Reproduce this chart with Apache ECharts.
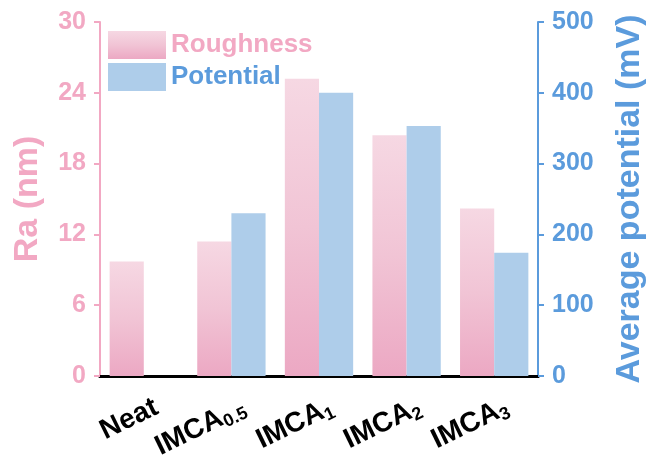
<!DOCTYPE html>
<html><head><meta charset="utf-8">
<script src="https://cdn.jsdelivr.net/npm/echarts@6/dist/echarts.min.js"></script>
<style>html,body{margin:0;padding:0;background:#fff}#c{width:646px;height:466px}</style>
</head><body><div id="c"></div>
<script>
const categories = ['Neat', 'IMCA0.5', 'IMCA1', 'IMCA2', 'IMCA3'];
const roughness = [9.7, 11.4, 25.2, 20.4, 14.2];
const potential = [null, 230, 400, 353, 174];
const raTicks = [0, 6, 12, 18, 24, 30];
const potTicks = [0, 100, 200, 300, 400, 500];

const PINK = '#f2a8c3', BLUE = '#5b9bdc', FONT = 'Liberation Sans, Arial, sans-serif';
const chart = echarts.init(document.getElementById('c'));
const labelFmt = (v) => {
  const m = v.match(/^IMCA(.+)$/);
  return m ? '{b|IMCA}{s|' + m[1] + '}' : '{b|' + v + '}';
};
chart.setOption({
  animation: false,
  textStyle: {fontFamily: FONT},
  grid: {left: 100, right: 108, top: 22, bottom: 90, outerBoundsMode: 'none', containLabel: false},
  legend: {
    orient: 'vertical', left: 103, top: 26, itemWidth: 58, itemHeight: 28, itemGap: 4,
    icon: 'rect',
    data: [
      {name: 'Roughness', textStyle: {color: PINK}},
      {name: 'Potential', textStyle: {color: BLUE}}
    ],
    textStyle: {fontSize: 26, fontWeight: 'bold', fontFamily: FONT}
  },
  xAxis: [{
    type: 'category', data: categories,
    axisLine: {lineStyle: {color: '#000', width: 3}},
    axisTick: {alignWithLabel: true, length: 6, lineStyle: {color: '#000', width: 2}},
    axisLabel: {
      rotate: 26, margin: 36, interval: 0, formatter: labelFmt, padding: [0, -14, 0, 0],
      rich: {
        b: {fontSize: 28, fontWeight: 'bold', color: '#000', fontFamily: FONT, lineHeight: 32},
        s: {fontSize: 18, fontWeight: 'bold', color: '#000', fontFamily: FONT, lineHeight: 32, verticalAlign: 'bottom', padding: [12, 0, 0, 0]}
      }
    }
  }, {
    type: 'category', data: categories, position: 'top',
    axisLine: {lineStyle: {color: '#000', width: 3}},
    axisTick: {show: false}, axisLabel: {show: false}
  }],
  yAxis: [{
    type: 'value', min: raTicks[0], max: raTicks[raTicks.length - 1], interval: raTicks[1] - raTicks[0],
    name: 'Ra (nm)', nameLocation: 'middle', nameGap: 55,
    nameTextStyle: {color: PINK, fontSize: 34, fontWeight: 'bold', fontFamily: FONT},
    axisLine: {show: true, lineStyle: {color: PINK, width: 2}},
    axisTick: {show: true, length: 6, lineStyle: {color: PINK, width: 2}},
    axisLabel: {color: PINK, fontSize: 25, fontWeight: 'bold', margin: 14},
    splitLine: {show: false}
  }, {
    type: 'value', min: potTicks[0], max: potTicks[potTicks.length - 1], interval: potTicks[1] - potTicks[0],
    position: 'right',
    name: 'Average potential (mV)', nameLocation: 'middle', nameGap: 75,
    nameTextStyle: {color: BLUE, fontSize: 34, fontWeight: 'bold', fontFamily: FONT},
    axisLine: {show: true, lineStyle: {color: BLUE, width: 2}},
    axisTick: {show: true, length: 6, lineStyle: {color: BLUE, width: 2}},
    axisLabel: {color: BLUE, fontSize: 25, fontWeight: 'bold', margin: 14},
    splitLine: {show: false}
  }],
  series: [{
    name: 'Roughness', type: 'bar', yAxisIndex: 0, data: roughness,
    barGap: '0%', barCategoryGap: '22%',
    itemStyle: {color: new echarts.graphic.LinearGradient(0, 0, 0, 1, [
      {offset: 0, color: '#f6d8e3'}, {offset: 0.5, color: '#f1c4d5'}, {offset: 1, color: '#eca8c3'}])}
  }, {
    name: 'Potential', type: 'bar', yAxisIndex: 1, data: potential,
    itemStyle: {color: '#aecdea'}
  }]
});
</script></body></html>
